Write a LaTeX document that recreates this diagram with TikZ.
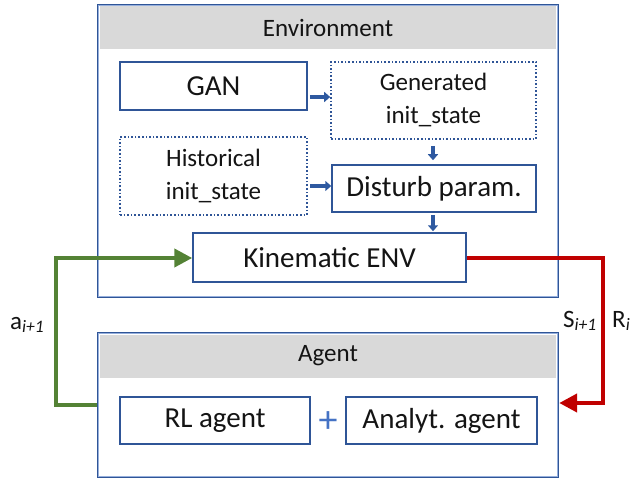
\documentclass[tikz,border=0pt]{standalone}
\usepackage{fontspec}
\setmainfont{Carlito}
\usetikzlibrary{arrows.meta,calc}
\definecolor{boxblue}{RGB}{47,85,151}
\definecolor{lightblue}{RGB}{150,175,220}
\definecolor{arrblue}{RGB}{46,89,160}
\definecolor{plusblue}{RGB}{68,114,196}
\definecolor{hdrgray}{RGB}{217,217,217}
\definecolor{mygreen}{RGB}{84,130,53}
\definecolor{myred}{RGB}{192,0,0}
\definecolor{txt}{RGB}{20,20,20}
\tikzset{
  outerbox/.style={draw=boxblue, line width=2.4pt, minimum width=460pt, inner sep=0pt},
  hdr/.style={fill=hdrgray, minimum width=456pt, minimum height=43pt, inner sep=0pt, text=txt, font=\fontsize{25}{30}\selectfont},
  solidbox/.style={draw=boxblue, line width=1.5pt, fill=white, inner sep=0pt, text=txt, font=\fontsize{29}{34}\selectfont},
  dotbox/.style={draw=boxblue, line width=1.6pt, dash pattern=on 1.6pt off 2pt, fill=white, inner sep=0pt, text=txt, align=center, font=\fontsize{25}{33}\selectfont},
  smallarrow/.style={draw=arrblue, line width=3.2pt, -{Triangle[length=6pt,width=10pt]}},
  bigarrow/.style={line width=4.2pt, line join=miter, -{Triangle[length=18pt,width=18pt]}},
  lbl/.style={text=txt, font=\fontsize{25}{30}\selectfont, inner sep=0pt}
}
\begin{document}
\begin{tikzpicture}[x=1pt,y=-1pt]
\useasboundingbox (0,0) rectangle (634,481);
% Environment
\node[hdr] (envhead) at (328,27.5) {Environment};
\node[outerbox, minimum height=292pt] (env) at (328,151) {};
\draw[lightblue, line width=0.9pt] ([shift={(2,2)}]env.north west) rectangle ([shift={(-2,-2)}]env.south east);
% Agent
\node[hdr] (agenthead) at (328,356) {Agent};
\node[outerbox, minimum height=144pt] (agent) at (328,405) {};
\draw[lightblue, line width=0.9pt] ([shift={(2,2)}]agent.north west) rectangle ([shift={(-2,-2)}]agent.south east);
% inner boxes
\node[solidbox, minimum width=187pt, minimum height=48pt] (gan) at (213.5,86) {GAN};
\node[dotbox, minimum width=205pt, minimum height=77pt] (gen) at (433.5,100.5) {Generated\\init\_state};
\node[dotbox, minimum width=187pt, minimum height=78pt] (hist) at (213.5,176) {Historical\\init\_state};
\node[solidbox, minimum width=204pt, minimum height=47pt] (dist) at (434,188.5) {Disturb param.};
\node[solidbox, minimum width=273pt, minimum height=49pt] (kin) at (329.5,257.5) {Kinematic ENV};
\node[solidbox, minimum width=190pt, minimum height=47pt] (rl) at (215,420.5) {RL agent};
\node[solidbox, minimum width=191pt, minimum height=47pt] (ana) at (441.5,420.5) {Analyt. agent};
\node[text=plusblue, font=\fontsize{38}{40}\selectfont, inner sep=0pt] (plus) at (328,422) {+};
% small arrows
\draw[smallarrow, shorten <=2pt] (gan.east |- 0,97) -- (gen.west |- 0,97);
\draw[smallarrow, shorten <=2pt] (hist.east |- 0,186) -- (dist.west |- 0,186);
\draw[smallarrow, shorten <=6pt, shorten >=4pt] (gen.south -| 433,0) -- (dist.north -| 433,0);
\draw[smallarrow, shorten <=2pt, shorten >=1pt] (dist.south -| 433,0) -- (kin.north -| 433,0);
% loop arrows
\coordinate (gcorner) at (56,258);
\coordinate (rcorner) at (603,258);
\draw[bigarrow, draw=mygreen] (agent.west |- 0,405) -- (gcorner |- 0,405) -- (gcorner) -- (kin.west |- gcorner);
\draw[bigarrow, draw=myred] (kin.east |- rcorner) -- (rcorner) -- (rcorner |- 0,403) -- (agent.east |- 0,403);
% labels
\node[lbl, anchor=west] (alab) at (10,325) {a\textsubscript{\textit{i+1}}};
\node[lbl, anchor=west] (slab) at (563,321) {S\textsubscript{\textit{i+1}}};
\node[lbl, anchor=west] (rlab) at (612,321) {R\textsubscript{\textit{i}}};
\end{tikzpicture}
\end{document}
